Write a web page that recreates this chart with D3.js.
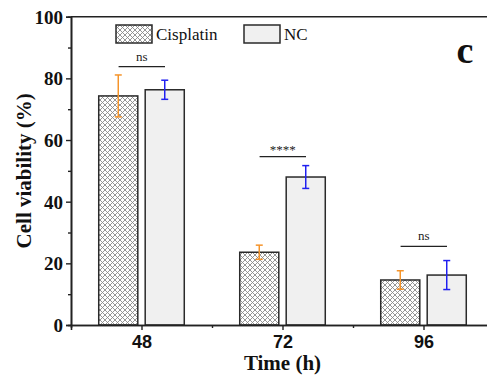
<!DOCTYPE html>
<html>
<head>
<meta charset="utf-8">
<script src="https://cdn.jsdelivr.net/npm/d3@7"></script>
<style>
  body { margin: 0; background: #fff; }
</style>
</head>
<body>
<div id="chart"></div>
<script>
// data
var times = [48, 72, 96];
var cisplatin = [74.3, 23.6, 14.6];
var cisplatinErr = [6.8, 2.3, 3.0];
var nc = [76.3, 48.0, 16.2];
var ncErr = [3.1, 3.7, 4.7];
var sigLevel = [83.8, 54.6, 25.5];
var sigText = ["ns", "****", "ns"];
var yTicks = [0, 20, 40, 60, 80, 100];

var width = 487,
    height = 376;

var x = d3.scaleLinear().domain([36, 108]).range([71, 494]);
var y = d3.scaleLinear().domain([0, 100]).range([325, 16.7]);

var svg = d3.select("#chart").append("svg")
    .attr("width", width)
    .attr("height", height);

var defs = svg.append("defs");
var pat = defs.append("pattern")
    .attr("id", "hatch")
    .attr("patternUnits", "userSpaceOnUse")
    .attr("width", 5)
    .attr("height", 5);
pat.append("rect").attr("width", 5).attr("height", 5).attr("fill", "#fff");
pat.append("path")
    .attr("d", "M0,0 L5,5 M5,0 L0,5 M-1,4 L1,6 M4,-1 L6,1 M4,6 L6,4 M-1,1 L1,-1")
    .attr("stroke", "#8a8a8a")
    .attr("stroke-width", 0.9);

var barW = 6.65, gap = 0.63;

// bars
var groups = svg.selectAll(".grp")
    .data(times)
    .enter().append("g")
    .attr("class", "grp");

groups.append("rect")
    .attr("x", function(d) { return x(d - gap - barW); })
    .attr("width", x(barW) - x(0))
    .attr("y", function(d, i) { return y(cisplatin[i]); })
    .attr("height", function(d, i) { return y(0) - y(cisplatin[i]); })
    .attr("fill", "url(#hatch)")
    .attr("stroke", "#2a2a2a")
    .attr("stroke-width", 1.5);

groups.append("rect")
    .attr("x", function(d) { return x(d + gap); })
    .attr("width", x(barW) - x(0))
    .attr("y", function(d, i) { return y(nc[i]); })
    .attr("height", function(d, i) { return y(0) - y(nc[i]); })
    .attr("fill", "#f0f0f0")
    .attr("stroke", "#2a2a2a")
    .attr("stroke-width", 1.5);

// error bars
function errBars(vals, errs, offset, color) {
  var g = svg.append("g").attr("stroke", color).attr("stroke-width", 1.5);
  times.forEach(function(t, i) {
    var cx = x(t + offset);
    var top = y(vals[i] + errs[i]), bot = y(vals[i] - errs[i]);
    g.append("line").attr("x1", cx).attr("x2", cx).attr("y1", top).attr("y2", bot);
    g.append("line").attr("x1", cx - 3.5).attr("x2", cx + 3.5).attr("y1", top).attr("y2", top);
    g.append("line").attr("x1", cx - 3.5).attr("x2", cx + 3.5).attr("y1", bot).attr("y2", bot);
  });
}
errBars(cisplatin, cisplatinErr, -(gap + barW / 2), "#f5942a");
errBars(nc, ncErr, gap + barW / 2, "#2020f0");

// significance
times.forEach(function(t, i) {
  svg.append("line")
    .attr("x1", x(t - 3.9)).attr("x2", x(t + 4.0))
    .attr("y1", y(sigLevel[i])).attr("y2", y(sigLevel[i]))
    .attr("stroke", "#222").attr("stroke-width", 1.3);
  svg.append("text")
    .attr("x", x(t + 0.05))
    .attr("y", y(sigLevel[i]) - (sigText[i] == "ns" ? 6 : 3))
    .attr("text-anchor", "middle")
    .style("font", "13px 'Liberation Serif', 'Times New Roman', serif")
    .style("fill", "#222")
    .text(sigText[i]);
});

// axes
var yAxis = d3.axisLeft(y).tickValues(yTicks).tickSize(5).tickPadding(3);
var yMinor = d3.axisLeft(y).tickValues([10, 30, 50, 70, 90]).tickSize(3).tickFormat("");
var gy = svg.append("g").attr("transform", "translate(71,0)").call(yAxis);
svg.append("g").attr("transform", "translate(71,0)").call(yMinor);
gy.selectAll("text")
  .style("font", "bold 19px 'Liberation Serif', 'Times New Roman', serif")
  .attr("dy", "0.34em")
  .style("fill", "#111");

var xAxis = d3.axisBottom(x).tickValues(times).tickSize(5).tickPadding(5);
var xMinor = d3.axisBottom(x).tickValues([60, 84]).tickSize(3).tickFormat("");
var gx = svg.append("g").attr("transform", "translate(0,325)").call(xAxis);
svg.append("g").attr("transform", "translate(0,325)").call(xMinor);
gx.selectAll("text")
  .style("font", "bold 18px 'Liberation Sans', Arial, sans-serif")
  .style("fill", "#111");

svg.selectAll(".domain").attr("stroke", "#222").attr("stroke-width", 1.6);
svg.selectAll(".tick line").attr("stroke", "#222").attr("stroke-width", 1.4);

// top frame line
svg.append("line")
  .attr("x1", x.range()[0]).attr("x2", x.range()[1])
  .attr("y1", y(100)).attr("y2", y(100))
  .attr("stroke", "#222").attr("stroke-width", 1.6);

// axis titles
svg.append("text")
  .attr("x", x(72))
  .attr("y", 370)
  .attr("text-anchor", "middle")
  .style("font", "bold 21px 'Liberation Serif', 'Times New Roman', serif")
  .style("fill", "#111")
  .text("Time (h)");

svg.append("text")
  .attr("transform", "translate(31," + y(50) + ") rotate(-90)")
  .attr("text-anchor", "middle")
  .style("font", "bold 21px 'Liberation Serif', 'Times New Roman', serif")
  .style("fill", "#111")
  .text("Cell viability (%)");

// legend
var legend = [
  { name: "Cisplatin", fill: "url(#hatch)", x: 116 },
  { name: "NC", fill: "#f0f0f0", x: 244 }
];
var lg = svg.selectAll(".legend")
  .data(legend)
  .enter().append("g")
  .attr("class", "legend");
lg.append("rect")
  .attr("x", function(d) { return d.x; })
  .attr("y", 25)
  .attr("width", 36)
  .attr("height", 18)
  .attr("fill", function(d) { return d.fill; })
  .attr("stroke", "#2a2a2a")
  .attr("stroke-width", 1.5);
lg.append("text")
  .attr("x", function(d) { return d.x + 40; })
  .attr("y", 40)
  .style("font", "17px 'Liberation Serif', 'Times New Roman', serif")
  .style("fill", "#111")
  .text(function(d) { return d.name; });

// panel label
svg.append("text")
  .attr("x", 465)
  .attr("y", 63)
  .attr("text-anchor", "middle")
  .style("font", "bold 38px 'Liberation Serif', 'Times New Roman', serif")
  .style("fill", "#111")
  .text("c");
</script>
</body>
</html>
